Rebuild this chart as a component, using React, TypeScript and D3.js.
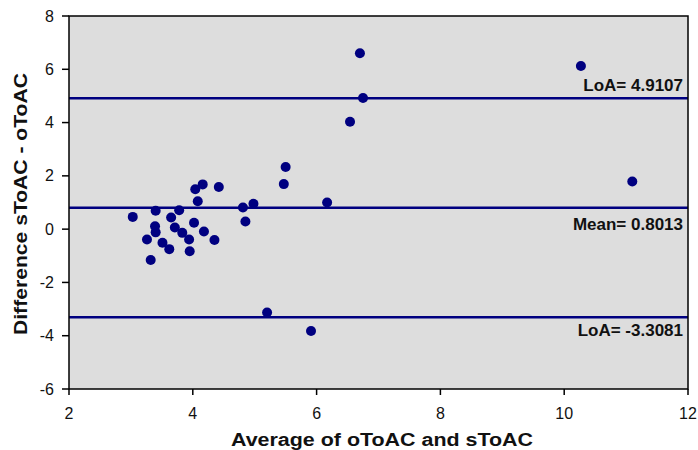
import React from "react";
import * as d3 from "d3";

const avgValues = [3.03, 3.40, 3.39, 3.40, 3.26, 3.32, 3.51, 3.62, 3.65, 3.71, 3.78, 3.83, 3.94, 3.95, 4.02, 4.04, 4.16, 4.08, 4.18, 4.35, 4.42, 4.81, 4.85, 4.98, 5.47, 5.50, 6.17, 6.54, 6.70, 6.75, 10.27, 11.10, 5.20, 5.91];
const diffValues = [0.46, 0.69, 0.11, -0.12, -0.39, -1.16, -0.51, -0.75, 0.44, 0.06, 0.71, -0.14, -0.39, -0.83, 0.24, 1.50, 1.68, 1.05, -0.09, -0.41, 1.58, 0.81, 0.29, 0.95, 1.69, 2.33, 1.00, 4.03, 6.60, 4.92, 6.12, 1.79, -3.13, -3.82];
const refLabels = ["LoA= 4.9107", "Mean= 0.8013", "LoA= -3.3081"];
const refValues = [4.9107, 0.8013, -3.3081];
const xTicks = [2, 4, 6, 8, 10, 12];
const yTicks = [-6, -4, -2, 0, 2, 4, 6, 8];

const W = 698, H = 450;
const L = 69, R = 688, T = 16, B = 389;
const navy = "#000080";
const font = "Arial, 'Liberation Sans', sans-serif";

export default function App() {
  const x = d3.scaleLinear().domain([2, 12]).range([L, R]);
  const y = d3.scaleLinear().domain([-6, 8]).range([B, T]);
  const points = avgValues.map((a, i) => ({ a, d: diffValues[i] }));
  // label positions: above the line for the top LoA, below for others
  const labelOffsets = [-7.5, 22.5, 19];
  return (
    <svg width={W} height={H} style={{ position: "absolute", left: 0, top: 0, background: "#fff" }} fontFamily={font}>
      <rect x={L} y={T} width={R - L} height={B - T} fill="#dddddd" />
      {refValues.map((v, i) => (
        <line key={"l" + i} x1={L} x2={R} y1={y(v)} y2={y(v)} stroke={navy} strokeWidth={2.5} />
      ))}
      {points.map((p, i) => (
        <circle key={"p" + i} cx={x(p.a)} cy={y(p.d)} r={5} fill={navy} />
      ))}
      {refValues.map((v, i) => (
        <text key={"t" + i} x={683} y={y(v) + labelOffsets[i]} textAnchor="end" fontSize={17} fontWeight="bold" fill="#111">
          {refLabels[i]}
        </text>
      ))}
      <rect x={L} y={T} width={R - L} height={B - T} fill="none" stroke="#000" strokeWidth={1.5} />
      {xTicks.map((t) => (
        <g key={"x" + t}>
          <line x1={x(t)} x2={x(t)} y1={B} y2={B + 6} stroke="#000" strokeWidth={1.5} />
          <text x={x(t)} y={419} textAnchor="middle" fontSize={16} fill="#111">{t}</text>
        </g>
      ))}
      {yTicks.map((t) => (
        <g key={"y" + t}>
          <line x1={L - 7} x2={L} y1={y(t)} y2={y(t)} stroke="#000" strokeWidth={1.5} />
          <text x={54} y={y(t)} dy="0.35em" textAnchor="end" fontSize={16} fill="#111">{t}</text>
        </g>
      ))}
      <text x={382} y={446} textAnchor="middle" fontSize={18} fontWeight="bold" fill="#111" textLength={302} lengthAdjust="spacingAndGlyphs">
        Average of oToAC and sToAC
      </text>
      <text transform={`translate(27,${204}) rotate(-90)`} textAnchor="middle" fontSize={18} fontWeight="bold" fill="#111" textLength={262} lengthAdjust="spacingAndGlyphs">
        Difference sToAC - oToAC
      </text>
    </svg>
  );
}
